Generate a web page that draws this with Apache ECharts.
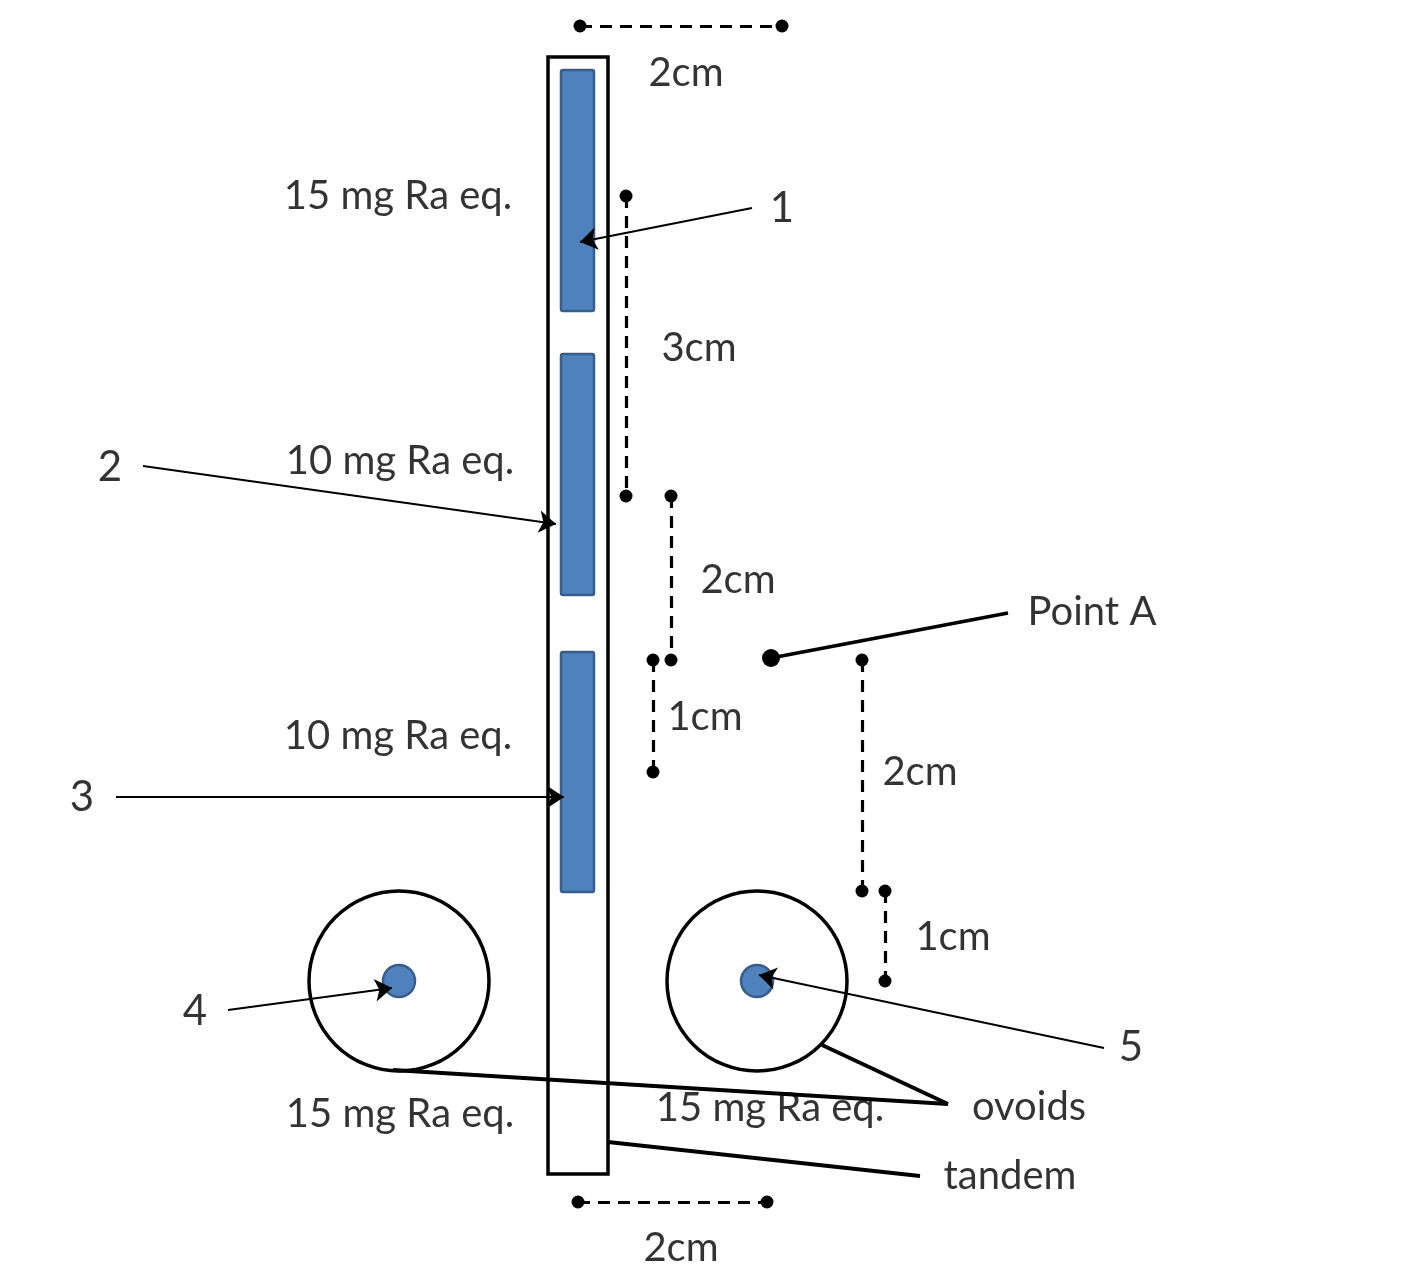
<!DOCTYPE html>
<html>
<head>
<meta charset="utf-8">
<script src="https://cdn.jsdelivr.net/npm/echarts@6/dist/echarts.min.js"></script>
<style>
  html, body { margin: 0; padding: 0; background: #fff; }
  #main { width: 1404px; height: 1288px; }
</style>
</head>
<body>
<div id="main"></div>
<script>
// diagram units: x 0..1404 left to right, y 0..1288 top to bottom

// tandem tube and its three sources [x1, y1, x2, y2]
const tandemBox = [[548, 57, 608, 1174]]
const sources = [[561, 70, 594, 311], [561, 354, 594, 595], [561, 652, 594, 892]]

// ovoids and their seeds [cx, cy, r]
const ovoids = [[399, 981, 90], [757, 981, 90]]
const seeds = [[399, 981, 16], [757, 981, 16]]

// dashed dimension lines with dot ends
const dimLines = [
  [[580, 26], [782, 26]],
  [[626, 196], [626, 496]],
  [[671, 496], [671, 660]],
  [[653, 660], [653, 772]],
  [[862, 660], [862, 891]],
  [[885, 891], [885, 981]],
  [[578, 1202], [767, 1202]],
]
const dimLabels = [
  ['2cm', 686, 73],
  ['3cm', 699, 348],
  ['2cm', 738, 580],
  ['1cm', 705, 717],
  ['2cm', 920, 772],
  ['1cm', 953, 937],
  ['2cm', 681, 1248],
]

// numbered pointer arrows
const arrows = [
  [[752, 208], [580, 242]],
  [[143, 466], [556, 524]],
  [[116, 797], [564, 797]],
  [[228, 1010], [392, 988]],
  [[1104, 1048], [759, 975]],
]
const arrowLabels = [
  ['1', 782, 208],
  ['2', 110, 467],
  ['3', 82, 797],
  ['4', 195, 1011],
  ['5', 1131, 1047],
]

// thick leader lines
const leaderLines = [
  [[771, 658], [1008, 613]],
  [[393, 1070], [948, 1104]],
  [[822, 1045], [948, 1104]],
  [[608, 1142], [920, 1176]],
]
const leaderLabels = [
  ['Point A', 1092, 612],
  ['ovoids', 1029, 1107],
  ['tandem', 1010, 1176],
]
const pointA = [[771, 658]]

const doseLabels = [
  ['15 mg Ra eq.', 398, 196],
  ['10 mg Ra eq.', 400, 461],
  ['10 mg Ra eq.', 398, 736],
  ['15 mg Ra eq.', 400, 1114],
  ['15 mg Ra eq.', 770, 1108],
]

const FONT = 'Lato, "Open Sans", sans-serif'

const rectItem = function (fill, stroke, lw, r) {
  return function (params, api) {
    const p1 = api.coord([api.value(0), api.value(1)])
    const p2 = api.coord([api.value(2), api.value(3)])
    return {
      type: 'rect',
      shape: { x: p1[0], y: p1[1], width: p2[0] - p1[0], height: p2[1] - p1[1], r: r },
      style: { fill: fill, stroke: stroke, lineWidth: lw },
    }
  }
}

const circleItem = function (fill, stroke, lw) {
  return function (params, api) {
    const c = api.coord([api.value(0), api.value(1)])
    const s = api.size([api.value(2), api.value(2)])
    return {
      type: 'circle',
      shape: { cx: c[0], cy: c[1], r: s[0] },
      style: { fill: fill, stroke: stroke, lineWidth: lw },
    }
  }
}

const textSeries = function (list, size) {
  return {
    type: 'scatter',
    symbolSize: 1,
    itemStyle: { color: 'rgba(0,0,0,0)' },
    silent: true,
    z: 20,
    data: list.map((d) => ({ name: d[0], value: [d[1], d[2]] })),
    label: {
      show: true,
      position: 'inside',
      formatter: '{b}',
      color: '#000',
      fontFamily: FONT,
      fontSize: size,
    },
  }
}

const lineData = (list) => list.map((d) => ({ coords: d }))

const option = {
  animation: false,
  backgroundColor: '#fff',
  grid: { left: 0, right: 0, top: 0, bottom: 0 },
  xAxis: { type: 'value', min: 0, max: 1404, show: false },
  yAxis: { type: 'value', min: 0, max: 1288, inverse: true, show: false },
  series: [
    { type: 'custom', z: 2, renderItem: rectItem('#fff', '#000', 3.5, 0), data: tandemBox },
    { type: 'custom', z: 3, renderItem: rectItem('#4f81bd', '#385d8a', 2.5, 2), data: sources },
    { type: 'custom', z: 3, renderItem: circleItem('rgba(0,0,0,0)', '#000', 3.5), data: ovoids },
    { type: 'custom', z: 4, renderItem: circleItem('#4f81bd', '#385d8a', 2.5), data: seeds },
    {
      type: 'lines',
      coordinateSystem: 'cartesian2d',
      z: 5,
      symbol: ['circle', 'circle'],
      symbolSize: 13,
      lineStyle: { color: '#000', width: 3.2, type: [12, 8], opacity: 1 },
      data: lineData(dimLines),
    },
    {
      type: 'lines',
      coordinateSystem: 'cartesian2d',
      z: 6,
      symbol: ['none', 'arrow'],
      symbolSize: 17,
      lineStyle: { color: '#000', width: 2, opacity: 1 },
      data: lineData(arrows),
    },
    {
      type: 'lines',
      coordinateSystem: 'cartesian2d',
      z: 6,
      symbol: ['none', 'none'],
      lineStyle: { color: '#000', width: 3.8, opacity: 1 },
      data: lineData(leaderLines),
    },
    {
      type: 'scatter',
      z: 7,
      symbolSize: 18,
      itemStyle: { color: '#000', opacity: 1 },
      data: pointA,
    },
    textSeries(dimLabels, 40),
    textSeries(doseLabels, 40),
    textSeries(leaderLabels, 40),
    textSeries(arrowLabels, 42),
  ],
}

const c = echarts.init(document.getElementById('main'))
c.setOption(option)
</script>
</body>
</html>
